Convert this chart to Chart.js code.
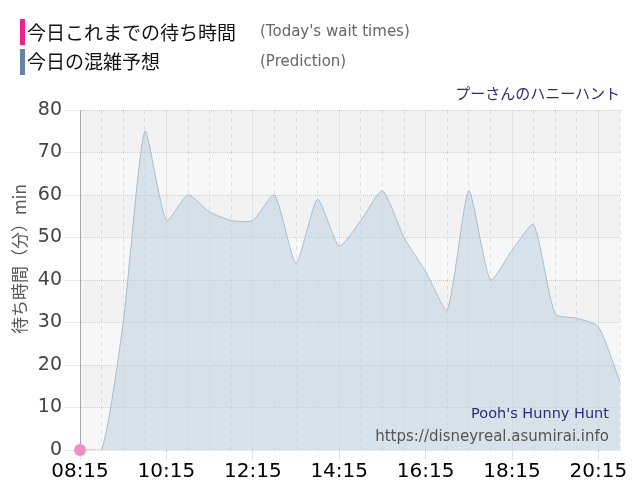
<!DOCTYPE html>
<html>
<head>
<meta charset="utf-8">
<script src="https://cdn.jsdelivr.net/npm/chart.js@4"></script>
<style>
  body { margin: 0; background: #fff; }
  #wrap { position: relative; width: 640px; height: 500px; }
  .bar { position: absolute; left: 20px; width: 5px; height: 26px; }
  .jp { position: absolute; left: 27px; font-family: "Noto Sans CJK JP", sans-serif; font-size: 19px; color: #111; }
  .en { position: absolute; left: 260px; font-family: "DejaVu Sans", sans-serif; font-size: 15px; color: #666; }
  #ride { position: absolute; right: 20px; top: 82px; font-family: "Noto Sans CJK JP", sans-serif; font-size: 15px; color: #2b2b7c; }
  .mark { position: absolute; right: 31px; font-family: "DejaVu Sans", sans-serif; }
</style>
</head>
<body>
<div id="wrap">
  <canvas id="waitChart" width="640" height="500"></canvas>
  <div class="bar" style="top:19px;background:#ef1f8c"></div>
  <div class="bar" style="top:49px;background:#6583ab"></div>
  <div class="jp" style="top:18px">今日これまでの待ち時間</div>
  <div class="jp" style="top:47px">今日の混雑予想</div>
  <div class="en" style="top:22px">(Today's wait times)</div>
  <div class="en" style="top:52px">(Prediction)</div>
  <div id="ride">プーさんのハニーハント</div>
  <div class="mark" style="top:405px;font-size:14.5px;color:#2b2b7c">Pooh's Hunny Hunt</div>
  <div class="mark" style="top:427px;font-size:15px;color:#555">https://disneyreal.asumirai.info</div>
</div>
<script>
// half-hour slots shown on the x axis
const times = ['08:15', '08:45', '09:15', '09:45', '10:15', '10:45', '11:15', '11:45',
               '12:15', '12:45', '13:15', '13:45', '14:15', '14:45', '15:15', '15:45',
               '16:15', '16:45', '17:15', '17:45', '18:15', '18:45', '19:15', '19:45',
               '20:15', '20:45'];

// today's prediction (minutes)
const prediction = [0, 0, 30, 75, 54, 60, 56, 54, 54, 60, 44, 59, 48, 54, 61, 50,
                    42, 33, 61, 40, 47, 53, 32, 31, 29, 16];

// actual wait times so far
const todayWaits = [0];

const yTicks = [0, 10, 20, 30, 40, 50, 60, 70, 80];

// alternating grey bands behind the plot + rotated axis title
const bandPlugin = {
    id: 'bands',
    beforeDraw(chart) {
        const { ctx, chartArea, scales } = chart;
        const y = scales.y;
        ctx.save();
        for (let i = 0; i < yTicks.length - 1; i++) {
            const top = y.getPixelForValue(yTicks[i + 1]);
            const bottom = y.getPixelForValue(yTicks[i]);
            ctx.fillStyle = (i % 2 === 1) ? '#f2f2f2' : '#f7f7f7';
            ctx.fillRect(chartArea.left, top, chartArea.right - chartArea.left, bottom - top);
        }
        // y axis title, drawn by hand so it sits where the original does
        ctx.translate(20, 259);
        ctx.rotate(-Math.PI / 2);
        ctx.fillStyle = '#555';
        ctx.font = '17px "Noto Sans CJK JP"';
        ctx.textAlign = 'center';
        ctx.textBaseline = 'middle';
        ctx.fillText('待ち時間（分）min', 0, 0);
        ctx.restore();
    }
};

const chart = new Chart(document.getElementById('waitChart'), {
    type: 'line',
    data: {
        labels: times,
        datasets: [{
            label: '今日これまでの待ち時間',
            data: todayWaits,
            borderColor: '#f48cc6',
            backgroundColor: '#f48cc6',
            pointRadius: 6,
            pointBorderWidth: 0,
            showLine: false,
            clip: false,
            order: 0
        }, {
            label: '今日の混雑予想',
            data: prediction,
            borderColor: 'rgba(160,185,205,0.9)',
            borderWidth: 1,
            backgroundColor: 'rgba(190,210,225,0.55)',
            fill: 'origin',
            pointRadius: 0,
            tension: 0.2,
            order: 1
        }]
    },
    options: {
        responsive: false,
        animation: false,
        layout: { padding: { top: 110, right: 20, left: 0, bottom: 0 } },
        plugins: {
            legend: { display: false },
            tooltip: { enabled: false }
        },
        scales: {
            x: {
                afterFit(scale) { scale.height = 50; },
                grid: {
                    color: ctx => ctx.index % 4 === 0 ? 'rgba(0,0,0,0.07)' : 'rgba(0,0,0,0.09)',
                    tickColor: ctx => ctx.index % 4 === 0 ? '#e2e2e2' : 'rgba(0,0,0,0)',
                    tickLength: 10
                },
                border: {
                    display: false,
                    dash: ctx => ctx.index % 4 === 0 ? [] : [4, 4]
                },
                ticks: {
                    autoSkip: false,
                    maxRotation: 0,
                    padding: 0,
                    color: '#000',
                    font: { family: 'DejaVu Sans', size: 20 },
                    callback: (val, i) => i % 4 === 0 ? times[i] : ''
                }
            },
            y: {
                min: 0,
                max: 80,
                afterFit(scale) { scale.width = 80; },
                grid: {
                    color: 'rgba(0,0,0,0.16)',
                    tickColor: '#ebebeb',
                    tickLength: 16
                },
                border: {
                    display: true,
                    color: '#a8a8a8',
                    dash: [1, 1]
                },
                ticks: {
                    stepSize: 10,
                    padding: 2,
                    color: '#444',
                    font: { family: 'DejaVu Sans', size: 19 }
                }
            }
        }
    },
    plugins: [bandPlugin]
});
</script>
</body>
</html>
